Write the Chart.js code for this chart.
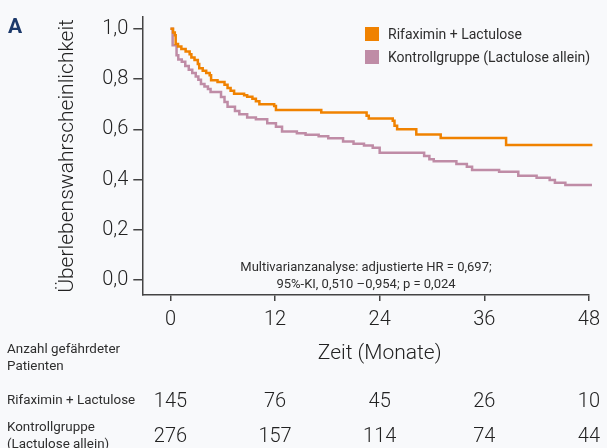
<!DOCTYPE html>
<html lang="de">
<head>
<meta charset="utf-8">
<script src="https://cdn.jsdelivr.net/npm/chart.js@4/dist/chart.umd.min.js"></script>
<style>
  html, body { margin: 0; padding: 0; background: #f8f9fb; }
  #wrap { position: relative; width: 607px; height: 448px; overflow: hidden; font-family: Roboto, sans-serif; color: #2e2e2e; }
  #chart { position: absolute; left: 0; top: 0; }
  .abs { position: absolute; white-space: nowrap; line-height: 1; }
  #panel { left: 8px; top: 16px; font-size: 21px; font-weight: 700; color: #1d3a6b; }
  .leg { left: 365px; font-size: 14px; }
  .leg i { position: absolute; left: 0; top: 0; width: 14px; height: 14px; }
  .leg span { position: absolute; left: 23px; top: 0; }
  #note { left: 366px; top: 258px; font-size: 13px; line-height: 17px; text-align: center; transform: translateX(-50%); }
  #xtitle { top: 342px; font-size: 21px; font-weight: 300; transform: translateX(-50%); color: #222; }
  .rlab { left: 7px; font-size: 13.4px; line-height: 17px; }
  .num { font-size: 20px; font-weight: 300; color: #222; transform: translate(-50%, -50%); }
</style>
</head>
<body>
<div id="wrap">
  <canvas id="chart" width="607" height="448"></canvas>
  <div class="abs" id="panel">A</div>
  <div class="abs leg" style="top:27px"><i style="background:#f08200"></i><span>Rifaximin + Lactulose</span></div>
  <div class="abs leg" style="top:50px"><i style="background:#bf8ca6"></i><span>Kontrollgruppe (Lactulose allein)</span></div>
  <div class="abs" id="note">Multivarianzanalyse: adjustierte HR = 0,697;<br>95%-KI, 0,510 –0,954; p = 0,024</div>
  <div class="abs" id="xtitle">Zeit (Monate)</div>
  <div class="abs rlab" style="top:340px">Anzahl gefährdeter<br>Patienten</div>
  <div class="abs rlab" style="top:391px">Rifaximin + Lactulose</div>
  <div class="abs rlab" style="top:418px">Kontrollgruppe<br>(Lactulose allein)</div>
</div>
<script>
// Kaplan-Meier Stufen: Zeitpunkt (Monate) und Überlebenswahrscheinlichkeit
const rifaTime = [0, 0.3, 0.5, 0.6, 0.87, 1.25, 1.74, 2.2, 2.4, 2.76, 3.14, 3.3, 3.7, 4.1, 4.5, 4.66, 5.4, 6.2, 6.55, 6.9, 7.3, 8.45, 8.8, 9.4, 9.8, 10.2, 11.9, 12.1, 17.3, 22.5, 22.75, 25.5, 25.7, 26.0, 28.2, 31.0, 38.5, 48.4];
const rifaSurv = [1.0, 0.985, 0.974, 0.94, 0.93, 0.92, 0.91, 0.899, 0.886, 0.876, 0.86, 0.843, 0.833, 0.824, 0.815, 0.795, 0.788, 0.778, 0.765, 0.754, 0.742, 0.736, 0.73, 0.722, 0.712, 0.70, 0.693, 0.677, 0.667, 0.654, 0.643, 0.634, 0.614, 0.601, 0.58, 0.566, 0.538, 0.538];

const ctrlTime = [0, 0.25, 0.7, 0.9, 1.3, 1.7, 2.1, 2.5, 2.9, 3.2, 3.5, 3.9, 4.3, 4.6, 5.8, 6.2, 6.55, 7.4, 7.9, 8.8, 9.8, 11.1, 12.1, 12.8, 14.5, 15.5, 17.0, 18.1, 19.8, 21.0, 22.2, 23.2, 24.0, 29.1, 29.7, 30.2, 32.8, 34.0, 34.6, 37.7, 39.9, 42.0, 43.5, 44.1, 45.3, 48.35];
const ctrlSurv = [1.0, 0.935, 0.895, 0.878, 0.869, 0.852, 0.837, 0.824, 0.81, 0.797, 0.78, 0.771, 0.761, 0.749, 0.729, 0.709, 0.69, 0.673, 0.66, 0.647, 0.64, 0.624, 0.61, 0.592, 0.585, 0.579, 0.573, 0.565, 0.552, 0.543, 0.536, 0.527, 0.507, 0.494, 0.481, 0.473, 0.462, 0.451, 0.438, 0.431, 0.416, 0.408, 0.399, 0.388, 0.379, 0.379];

const xTicks = [0, 12, 24, 36, 48];
const yTicks = [0, 0.2, 0.4, 0.6, 0.8, 1.0];
const riskRifa = [145, 76, 45, 26, 10];
const riskCtrl = [276, 157, 114, 74, 44];

const AXIS = '#444';
const TXT = '#222';
const pts = (t, s) => t.map((v, i) => ({ x: v, y: s[i] }));

// Zahlen unter der Achse über die x-Skala platzieren
const riskPlugin = {
  id: 'riskTable',
  afterRender(chart) {
    if (chart._riskDone) return;
    chart._riskDone = true;
    const xs = chart.scales.x;
    const wrap = document.getElementById('wrap');
    document.getElementById('xtitle').style.left = xs.getPixelForValue(24) + 'px';
    [[riskRifa, 400], [riskCtrl, 435]].forEach(([row, y]) => {
      row.forEach((n, i) => {
        const d = document.createElement('div');
        d.className = 'abs num';
        d.textContent = n;
        d.style.left = xs.getPixelForValue(xTicks[i]) + 'px';
        d.style.top = y + 'px';
        wrap.appendChild(d);
      });
    });
  }
};

new Chart(document.getElementById('chart'), {
  type: 'line',
  data: {
    datasets: [
      { label: 'Rifaximin + Lactulose', data: pts(rifaTime, rifaSurv), borderColor: '#f08200', borderWidth: 2.5, stepped: 'before', pointRadius: 0, clip: false },
      { label: 'Kontrollgruppe (Lactulose allein)', data: pts(ctrlTime, ctrlSurv), borderColor: '#bf8ca6', borderWidth: 2.5, stepped: 'before', pointRadius: 0, clip: false }
    ]
  },
  options: {
    responsive: false,
    animation: false,
    devicePixelRatio: 1,
    layout: { padding: { top: 13, right: 14.3, bottom: 0, left: 0 } },
    plugins: { legend: { display: false }, tooltip: { enabled: false } },
    scales: {
      x: {
        type: 'linear',
        min: -3.23, max: 48,
        afterFit: s => { s.height = 153; },
        afterBuildTicks: s => { s.ticks = xTicks.map(v => ({ value: v })); },
        grid: { drawOnChartArea: false, drawTicks: true, tickLength: 6, color: AXIS, lineWidth: 1.5 },
        border: { color: AXIS, width: 1.5 },
        ticks: { padding: 7, color: TXT, font: { family: 'Roboto', size: 20, weight: '300' }, maxRotation: 0 }
      },
      y: {
        min: -0.0588, max: 1.047,
        afterFit: s => { s.width = 142.3; },
        afterBuildTicks: s => { s.ticks = yTicks.map(v => ({ value: v })); },
        grid: { drawOnChartArea: false, drawTicks: true, tickLength: 9, color: AXIS, lineWidth: 1.5 },
        border: { color: AXIS, width: 1.5 },
        ticks: { padding: 5, color: TXT, font: { family: 'Roboto', size: 20, weight: '300' }, callback: v => v.toFixed(1).replace('.', ',') },
        title: { display: true, text: 'Überlebenswahrscheinlichkeit', color: TXT, font: { family: 'Roboto', size: 21, weight: '300' }, padding: { top: 55 } }
      }
    }
  },
  plugins: [riskPlugin]
});
</script>
</body>
</html>
